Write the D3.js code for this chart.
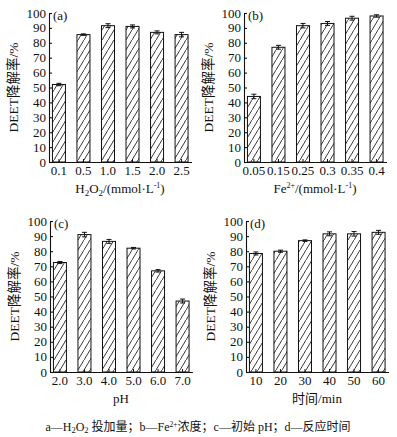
<!DOCTYPE html>
<html><head><meta charset="utf-8">
<script src="https://cdn.jsdelivr.net/npm/d3@7"></script>
<style>
html,body{margin:0;padding:0;background:#fff;}
svg{display:block;}
text{font-family:"Liberation Serif","Times New Roman","Noto Sans CJK SC",serif;fill:#111;}
</style></head>
<body>
<svg id="chart" width="397" height="437"></svg>
<script>
// ---- data ----
const yTicks = [0,10,20,30,40,50,60,70,80,90,100];

const catsA = ["0.1","0.5","1.0","1.5","2.0","2.5"];
const valsA = [52, 85.5, 91.5, 91, 87, 85.5];
const errA  = [0.8, 0.5, 1.3, 1.0, 1.0, 1.5];

const catsB = ["0.05","0.15","0.25","0.3","0.35","0.4"];
const valsB = [44, 77, 91.5, 93, 96.5, 98];
const errB  = [1.5, 1.3, 1.5, 1.3, 1.3, 0.8];

const catsC = ["2.0","3.0","4.0","5.0","6.0","7.0"];
const valsC = [72.5, 91, 86.5, 82, 67, 47];
const errC  = [0.7, 1.5, 1.3, 0.5, 0.8, 1.3];

const catsD = ["10","20","30","40","50","60"];
const valsD = [78.5, 80, 87, 91.5, 91.5, 92.5];
const errD  = [1.0, 0.7, 0.5, 1.3, 1.5, 1.3];

const panelLabels = ["(a)","(b)","(c)","(d)"];
const yTitle = "DEET降解率/%";

// ---- drawing ----
const svg = d3.select("#chart");
const defs = svg.append("defs");
const pat = defs.append("pattern").attr("id","hatch")
  .attr("patternUnits","userSpaceOnUse").attr("width",6).attr("height",10);
pat.append("rect").attr("width",6).attr("height",10).attr("fill","#fff");
pat.append("path").attr("d","M-1.2,12 L7.2,-2").attr("stroke","#222").attr("stroke-width",0.9);

const panels = [
  {cats:catsA, vals:valsA, errs:errA, x0:49,  y0:162, y1:13,  label:panelLabels[0], key:"a"},
  {cats:catsB, vals:valsB, errs:errB, x0:244, y0:162, y1:13,  label:panelLabels[1], key:"b"},
  {cats:catsC, vals:valsC, errs:errC, x0:50,  y0:372, y1:221, label:panelLabels[2], key:"c"},
  {cats:catsD, vals:valsD, errs:errD, x0:246, y0:372, y1:221, label:panelLabels[3], key:"d"}
];

panels.forEach(p => {
  const g = svg.append("g");
  const x = d3.scaleBand().domain(p.cats).range([p.x0, p.x0 + 142.5])
    .paddingInner(0.47).paddingOuter(0.14);
  const y = d3.scaleLinear().domain([0,100]).range([p.y0, p.y1]);

  // bars
  g.selectAll("rect.bar").data(p.vals).enter().append("rect")
    .attr("x",(d,i)=>x(p.cats[i]))
    .attr("y",d=>y(d))
    .attr("width",x.bandwidth())
    .attr("height",d=>y(0)-y(d))
    .attr("fill","url(#hatch)")
    .attr("stroke","#111").attr("stroke-width",1);

  // error bars
  const eb = g.selectAll("g.err").data(p.vals).enter().append("g")
    .attr("stroke","#111").attr("stroke-width",1);
  eb.append("line")
    .attr("x1",(d,i)=>x(p.cats[i])+x.bandwidth()/2)
    .attr("x2",(d,i)=>x(p.cats[i])+x.bandwidth()/2)
    .attr("y1",(d,i)=>y(d+p.errs[i])).attr("y2",(d,i)=>y(d-p.errs[i]));
  eb.append("line")
    .attr("x1",(d,i)=>x(p.cats[i])+x.bandwidth()/2-2.5)
    .attr("x2",(d,i)=>x(p.cats[i])+x.bandwidth()/2+2.5)
    .attr("y1",(d,i)=>y(d+p.errs[i])).attr("y2",(d,i)=>y(d+p.errs[i]));
  eb.append("line")
    .attr("x1",(d,i)=>x(p.cats[i])+x.bandwidth()/2-2.5)
    .attr("x2",(d,i)=>x(p.cats[i])+x.bandwidth()/2+2.5)
    .attr("y1",(d,i)=>y(d-p.errs[i])).attr("y2",(d,i)=>y(d-p.errs[i]));

  // y axis
  const ya = g.append("g").attr("transform",`translate(${p.x0},0)`)
    .call(d3.axisRight(y).tickValues(yTicks).tickSize(3).tickSizeOuter(0).tickFormat(""));
  ya.selectAll("path,line").attr("stroke","#111").attr("stroke-width",1.1);
  g.selectAll("text.ytl").data(yTicks).enter().append("text")
    .attr("x",p.x0-3).attr("y",d=>y(d)).attr("dy","0.35em")
    .attr("text-anchor","end").attr("font-size",13).text(d=>d);

  // x axis
  const xa = g.append("g").attr("transform",`translate(0,${p.y0})`)
    .call(d3.axisTop(x).tickSize(3).tickSizeOuter(0).tickFormat(""));
  xa.select("path").attr("stroke","#111").attr("stroke-width",1.1);
  xa.selectAll("line").attr("stroke","#111").attr("stroke-width",1);
  g.selectAll("text.xtl").data(p.cats).enter().append("text")
    .attr("x",d=>x(d)+x.bandwidth()/2).attr("y",p.y0+13)
    .attr("text-anchor","middle").attr("font-size",13).text(d=>d);

  // panel label
  g.append("text").attr("x",p.x0+4).attr("y",p.y1+7)
    .attr("font-size",13).text(p.label);

  // y title
  const cy = (p.y0+p.y1)/2;
  g.append("text").attr("transform",`translate(${p.x0-36},${cy}) rotate(-90)`)
    .attr("text-anchor","middle").attr("dy","0.35em").attr("font-size",13.5).text(yTitle);

  // x title
  const cx = p.x0 + 71;
  const t = g.append("text").attr("x",cx).attr("y",p.y0+31)
    .attr("text-anchor","middle").attr("font-size",13);
  if (p.key==="a") {
    t.append("tspan").text("H");
    t.append("tspan").attr("font-size",9).attr("dy",3).text("2");
    t.append("tspan").attr("dy",-3).text("O");
    t.append("tspan").attr("font-size",9).attr("dy",3).text("2");
    t.append("tspan").attr("dy",-3).text("/(mmol·L");
    t.append("tspan").attr("font-size",8).attr("dy",-5).text("-1");
    t.append("tspan").attr("dy",5).text(")");
  } else if (p.key==="b") {
    t.append("tspan").text("Fe");
    t.append("tspan").attr("font-size",8).attr("dy",-5).text("2+");
    t.append("tspan").attr("dy",5).text("/(mmol·L");
    t.append("tspan").attr("font-size",8).attr("dy",-5).text("-1");
    t.append("tspan").attr("dy",5).text(")");
  } else if (p.key==="c") {
    t.text("pH");
  } else {
    t.text("时间/min");
  }
});

// caption
const cap = svg.append("text").attr("x",198).attr("y",431)
  .attr("text-anchor","middle").attr("font-size",12);
cap.append("tspan").text("a—H");
cap.append("tspan").attr("font-size",8.5).attr("dy",2).text("2");
cap.append("tspan").attr("dy",-2).text("O");
cap.append("tspan").attr("font-size",8.5).attr("dy",2).text("2");
cap.append("tspan").attr("dy",-2).text(" 投加量；b—Fe");
cap.append("tspan").attr("font-size",7.5).attr("dy",-4).text("2+");
cap.append("tspan").attr("dy",4).text("浓度；c—初始 pH；d—反应时间");
</script>
</body></html>
